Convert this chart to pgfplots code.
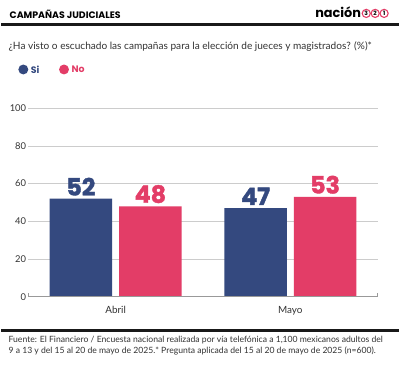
\documentclass[border=0pt]{standalone}
\usepackage{pgfplots}
\pgfplotsset{compat=1.18}
\usepackage{fontspec}
\setmainfont{Lato}
\newfontfamily\pop{Poppins}
\newfontfamily\heavy{Poppins}[BoldFeatures={FakeBold=1.6}]
\definecolor{siblue}{HTML}{34497F}
\definecolor{nopink}{HTML}{E33D67}
\definecolor{txt}{HTML}{333333}
\definecolor{gridc}{HTML}{CCCCCC}
\begin{document}
\begin{tikzpicture}[x=1bp,y=1bp]
\fill[white] (0,0) rectangle (400,369);
% header
\node[anchor=west,inner sep=0,font=\pop\bfseries\fontsize{9.5}{10}\selectfont,text=black] at (8,355) {CAMPAÑAS JUDICIALES};
\node[anchor=base east,inner sep=0,font=\pop\bfseries\fontsize{13}{13}\selectfont,text=black] at (362.5,351.5) {nación};
\foreach \cx/\d in {367.5/3,376.5/2,385.5/1}{
  \draw[nopink,line width=1.1bp,fill=white] (\cx,355.5) circle (4.1);
  \node[inner sep=0,font=\pop\bfseries\fontsize{6}{6}\selectfont,text=black] at (\cx,355.5) {\d};
}
\draw[black!90,line width=3bp] (0,344.5) -- (400,344.5);
\node[anchor=west,inner sep=0,font=\fontsize{10.2}{11}\selectfont,text=txt] at (7,322) {¿Ha visto o escuchado las campañas para la elección de jueces y magistrados? (\%)*};
% legend
\fill[siblue] (22,299) circle (5);
\node[anchor=west,inner sep=0,font=\pop\bfseries\fontsize{9.5}{10}\selectfont,text=siblue] at (29.5,299) {Si};
\fill[nopink] (63,299) circle (5);
\node[anchor=west,inner sep=0,font=\pop\bfseries\fontsize{9.5}{10}\selectfont,text=nopink] at (70.5,299) {No};
% axis
\begin{axis}[
  at={(27bp,70bp)}, anchor=south west,
  scale only axis, width=352bp, height=190bp,
  xmin=-0.5, xmax=1.5, ymin=0, ymax=100,
  ybar=7bp, bar width=63bp,
  axis line style={draw=none},
  ytick={0,20,40,60,80,100},
  ymajorgrids, grid style={gridc,line width=0.8bp},
  major tick length=0pt,
  xtick={0,1}, xticklabels={Abril,Mayo},
  /pgf/number format/assume math mode=true,
  yticklabel style={font=\fontsize{9.5}{10}\selectfont,text=txt,inner xsep=2bp},
  xticklabel style={font=\fontsize{10}{11}\selectfont,text=txt,yshift=-6bp},
  nodes near coords,
  every node near coord/.append style={font=\heavy\bfseries\fontsize{24}{24}\selectfont,inner sep=0pt,yshift=3bp,anchor=south},
  clip=false,
]
\addplot[fill=siblue,draw=none,every node near coord/.append style={text=siblue}] coordinates {(0,52) (1,47)};
\addplot[fill=nopink,draw=none,every node near coord/.append style={text=nopink}] coordinates {(0,48) (1,53)};
\draw[gray!80,line width=0.8bp] (axis cs:-0.5,0) -- (axis cs:1.5,0);
\draw[gray!80,line width=0.8bp] (axis cs:-0.5,0) -- (axis cs:-0.5,2);
\draw[gray!80,line width=0.8bp] (axis cs:1.5,0) -- (axis cs:1.5,2);
\end{axis}
% footer
\draw[black!90,line width=3bp] (0,36.5) -- (400,36.5);
\node[anchor=west,inner sep=0,font=\fontsize{8.7}{10}\selectfont,text=txt] at (7,26) {Fuente: El Financiero / Encuesta nacional realizada por vía telefónica a 1,100 mexicanos adultos del};
\node[anchor=west,inner sep=0,font=\fontsize{8.7}{10}\selectfont,text=txt] at (7,15) {9 a 13 y del 15 al 20 de mayo de 2025.* Pregunta aplicada del 15 al 20 de mayo de 2025 (n=600).};
\end{tikzpicture}
\end{document}
